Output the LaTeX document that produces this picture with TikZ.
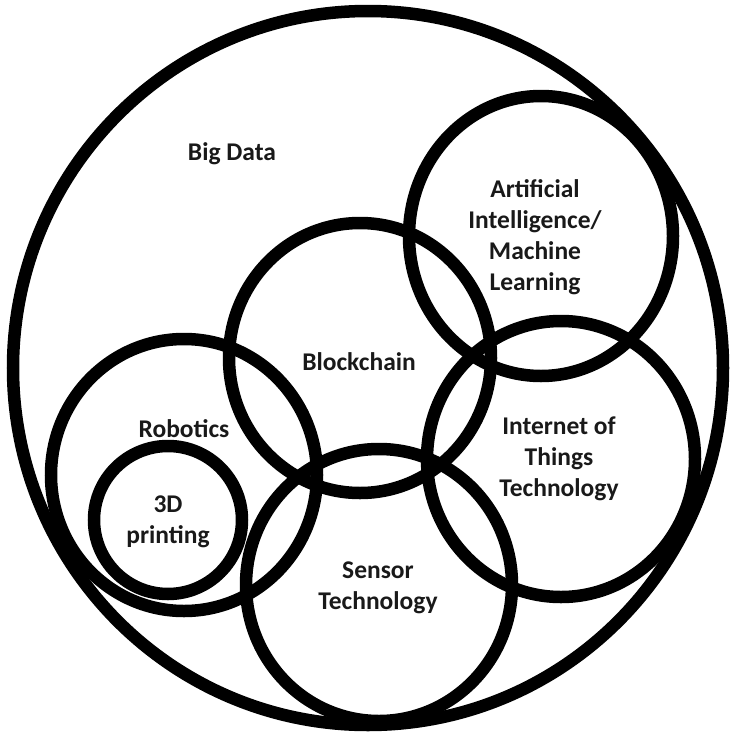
\documentclass[tikz,border=0pt]{standalone}
\usepackage{fontspec}
\setmainfont{Carlito}
\begin{document}
\begin{tikzpicture}[x=1pt,y=-1pt,
  ring/.style={draw=black,line width=12.5pt},
  lbl/.style={align=center,text=black!90,inner sep=0pt,
    font=\bfseries\fontsize{25.5}{31}\selectfont}]
\useasboundingbox (0,0) rectangle (730,734);
% outer set and the overlapping technology sets
\draw[ring] (368,368) ellipse [x radius=355pt, y radius=357pt];
\draw[ring] (541,236) ellipse [x radius=132pt, y radius=140pt];
\draw[ring] (360,358) ellipse [x radius=131pt, y radius=135pt];
\draw[ring] (184,475) ellipse [x radius=133pt, y radius=136pt];
\draw[ring] (168,520) ellipse [x radius=74pt, y radius=74pt];
\draw[ring] (379,585) ellipse [x radius=133pt, y radius=136pt];
\draw[ring] (561,459) ellipse [x radius=134pt, y radius=138pt];
% labels
\node[lbl] (bigdata) at (232,154) {Big Data};
\node[lbl] (ai) at (535,237) {Artificial\\Intelligence/\\Machine\\Learning};
\node[lbl] (chain) at (359,362) {Blockchain};
\node[lbl] (robot) at (184,429) {Robotics};
\node[lbl] (print) at (168,522) {3D\\printing};
\node[lbl] (sensor) at (378,588) {Sensor\\Technology};
\node[lbl] (iot) at (559,459) {Internet of\\Things\\Technology};
\end{tikzpicture}
\end{document}
